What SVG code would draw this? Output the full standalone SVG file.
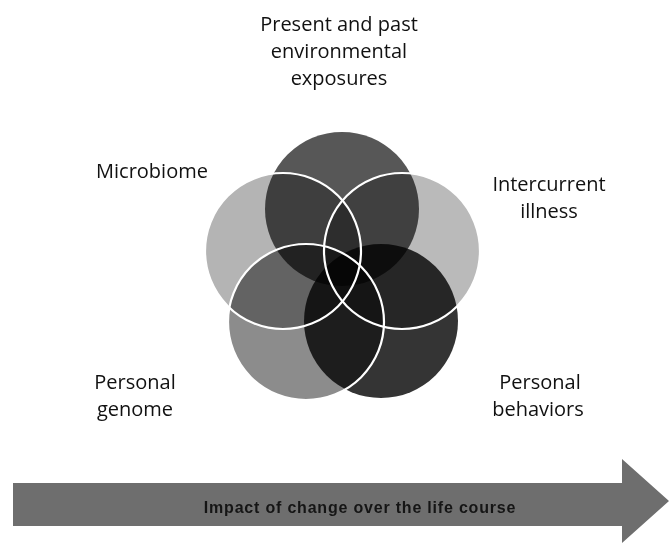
<svg xmlns="http://www.w3.org/2000/svg" width="670" height="550" viewBox="0 0 670 550">
  <style>
    .lbl { font-family: "Open Sans", "Liberation Sans", sans-serif; font-size: 20px; fill: #111; text-anchor: middle; }
    .fill { mix-blend-mode: multiply; stroke: none; }
    .edge { fill: none; stroke: #ffffff; stroke-width: 2.2; }
    .atext { font-family: "Liberation Sans", sans-serif; font-size: 16px; font-weight: bold; letter-spacing: 0.8px; fill: #151515; text-anchor: middle; }
  </style>
  <rect width="670" height="550" fill="#ffffff"/>
  <g id="venn">
    <g id="env"><circle class="fill" cx="342" cy="209" r="77" fill="#575757"/></g>
    <g id="intercurrent"><circle class="fill" cx="402" cy="251" r="78" fill="#bababa"/></g>
    <g id="microbiome"><circle class="fill" cx="283" cy="251" r="78" fill="#b4b4b4"/></g>
    <g id="behaviors"><circle class="fill" cx="381" cy="321" r="77" fill="#343434"/></g>
    <g id="genome"><circle class="fill" cx="306" cy="322" r="78" fill="#8c8c8c"/></g>
  </g>
  <g id="outlines">
    <circle class="edge" cx="283" cy="251" r="78"/>
    <circle class="edge" cx="402" cy="251" r="78"/>
    <circle class="edge" cx="306" cy="322" r="78"/>
  </g>
  <g id="labels">
    <text class="lbl" x="339" y="31">Present and past</text>
    <text class="lbl" x="339" y="58">environmental</text>
    <text class="lbl" x="339" y="85">exposures</text>
    <text class="lbl" x="152" y="178">Microbiome</text>
    <text class="lbl" x="549" y="191">Intercurrent</text>
    <text class="lbl" x="549" y="218">illness</text>
    <text class="lbl" x="135" y="389">Personal</text>
    <text class="lbl" x="135" y="416">genome</text>
    <text class="lbl" x="540" y="389">Personal</text>
    <text class="lbl" x="538" y="416">behaviors</text>
  </g>
  <g id="arrow">
    <path d="M13,483 L622,483 L622,459 L669,501 L622,543 L622,526 L13,526 Z" fill="#6e6e6e"/>
    <text class="atext" x="360" y="513">Impact of change over the life course</text>
  </g>
</svg>
